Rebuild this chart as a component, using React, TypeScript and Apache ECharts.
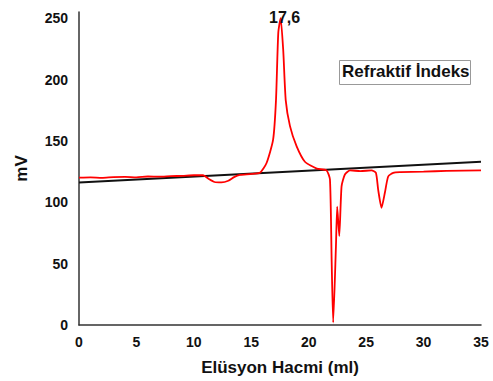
import React, { useEffect, useRef } from "react";
import * as echarts from "echarts";

const xTicks = [0, 5, 10, 15, 20, 25, 30, 35];
const yTicks = [0, 50, 100, 150, 200, 250];

const riSeriesName = "Refraktif İndeks";
const riX = [0, 1, 2, 3, 4, 5, 6, 7, 8, 9, 10, 10.8, 11.3, 11.8, 12.4, 13, 13.5, 14, 14.9, 15.75, 16.33, 16.9, 17.15, 17.35, 17.55, 17.78, 18.0, 18.37, 18.95, 19.67, 20.7, 21.55, 21.85, 22.0, 22.13, 22.37, 22.48, 22.66, 22.86, 23.15, 23.6, 24.5, 25.47, 25.85, 26.05, 26.34, 26.63, 26.92, 27.36, 28, 30, 32, 35];
const riY = [120, 120.3, 119.8, 120.5, 120.6, 120.2, 121, 120.8, 121.3, 121.5, 122, 122, 119, 116.5, 116.2, 117.5, 120.5, 122.3, 123, 124, 132, 151, 183, 238, 250, 224, 183, 162, 145.5, 133, 127.4, 126, 118.5, 51, 2, 64, 96.5, 72.5, 113, 122.6, 126, 125.3, 126, 124, 110, 95.5, 107.7, 121, 124, 124.5, 125, 125.5, 126];

const baseX = [0, 35];
const baseY = [116, 133];

const peakLabel = "17,6";
const xName = "Elüsyon Hacmi (ml)";
const yName = "mV";

export default function App() {
  const ref = useRef<HTMLDivElement>(null);
  useEffect(() => {
    document.body.style.margin = "0";
    const chart = echarts.init(ref.current!, null, { renderer: "svg" });
    const font = "Arial, 'Liberation Sans', sans-serif";
    chart.setOption({
      animation: false,
      backgroundColor: "#fff",
      grid: { left: 79, right: 12, top: 12, bottom: 55 },
      xAxis: {
        type: "value",
        min: 0,
        max: 35,
        interval: 5,
        name: xName,
        nameLocation: "middle",
        nameGap: 34,
        nameTextStyle: { fontFamily: font, fontWeight: "bold", fontSize: 17, color: "#111" },
        axisLine: { lineStyle: { color: "#333", width: 1.5 } },
        axisTick: { show: false },
        splitLine: { show: false },
        axisLabel: { fontFamily: font, fontWeight: "bold", fontSize: 14, color: "#111", margin: 10 },
      },
      yAxis: {
        type: "value",
        min: 0,
        max: 255,
        interval: 50,
        name: yName,
        nameLocation: "middle",
        nameGap: 49,
        nameRotate: 90,
        nameTextStyle: { fontFamily: font, fontWeight: "bold", fontSize: 17, color: "#111" },
        axisLine: { show: true, lineStyle: { color: "#333", width: 1.5 } },
        axisTick: { show: false },
        splitLine: { show: false },
        axisLabel: { fontFamily: font, fontWeight: "bold", fontSize: 14, color: "#111", margin: 11, showMaxLabel: false },
      },
      series: [
        {
          name: "Baseline",
          type: "line",
          data: baseX.map((x, i) => [x, baseY[i]]),
          showSymbol: false,
          lineStyle: { color: "#111", width: 2 },
          z: 3,
        },
        {
          name: riSeriesName,
          type: "line",
          data: riX.map((x, i) => [x, riY[i]]),
          showSymbol: false,
          smooth: 0.2,
          lineStyle: { color: "#ff0000", width: 1.8 },
          z: 4,
        },
      ],
      graphic: [
        {
          type: "text",
          left: 269,
          top: 9,
          style: { text: peakLabel, font: `bold 16px ${font}`, fill: "#111" },
          z: 10,
        },
        {
          type: "rect",
          left: 339,
          top: 60,
          shape: { width: 131, height: 24 },
          style: { fill: "#fff", stroke: "#999", lineWidth: 1 },
          z: 10,
        },
        {
          type: "text",
          left: 342,
          top: 63,
          style: { text: riSeriesName, font: `bold 17px ${font}`, fill: "#111" },
          z: 11,
        },
      ],
    });
    return () => chart.dispose();
  }, []);
  return <div ref={ref} style={{ width: 493, height: 381 }} />;
}
